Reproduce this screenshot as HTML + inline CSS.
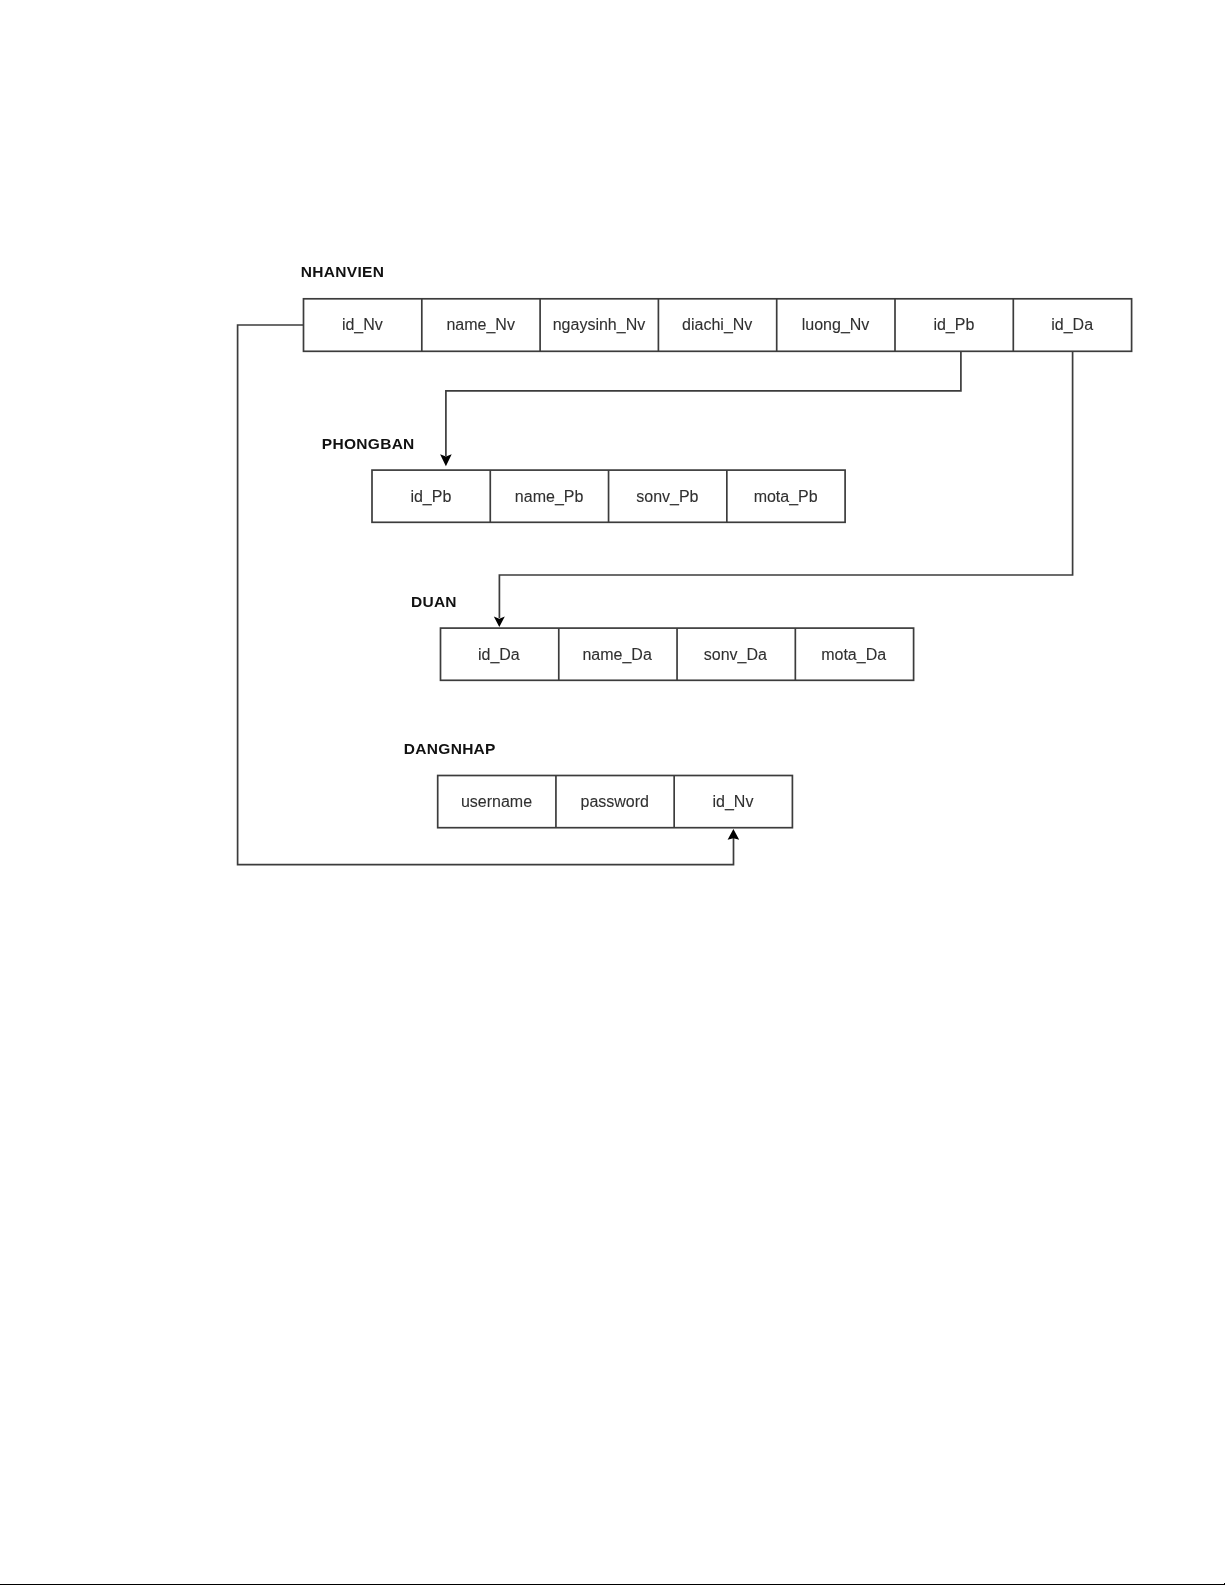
<!DOCTYPE html>
<html><head><meta charset="utf-8"><style>
html,body{margin:0;padding:0;background:#fff;width:1225px;height:1585px;overflow:hidden}
svg{position:absolute;left:0;top:0;will-change:transform}
.t{font-family:"Liberation Sans",sans-serif;font-size:16px;fill:#303030;stroke:#303030;stroke-width:0.1px}
.b{font-family:"Liberation Sans",sans-serif;font-size:15.5px;font-weight:bold;fill:#111;letter-spacing:0.3px}
</style></head><body>
<svg width="1225" height="1585" viewBox="0 0 1225 1585">
<rect x="303.5" y="298.8" width="828.10" height="52.50" fill="none" stroke="#3c3c3c" stroke-width="1.7"/>
<line x1="421.80" y1="298.8" x2="421.80" y2="351.3" stroke="#3c3c3c" stroke-width="1.7"/>
<line x1="540.10" y1="298.8" x2="540.10" y2="351.3" stroke="#3c3c3c" stroke-width="1.7"/>
<line x1="658.40" y1="298.8" x2="658.40" y2="351.3" stroke="#3c3c3c" stroke-width="1.7"/>
<line x1="776.70" y1="298.8" x2="776.70" y2="351.3" stroke="#3c3c3c" stroke-width="1.7"/>
<line x1="895.00" y1="298.8" x2="895.00" y2="351.3" stroke="#3c3c3c" stroke-width="1.7"/>
<line x1="1013.30" y1="298.8" x2="1013.30" y2="351.3" stroke="#3c3c3c" stroke-width="1.7"/>
<text x="362.35" y="330.45" text-anchor="middle" class="t">id_Nv</text>
<text x="480.65" y="330.45" text-anchor="middle" class="t">name_Nv</text>
<text x="598.95" y="330.45" text-anchor="middle" class="t">ngaysinh_Nv</text>
<text x="717.25" y="330.45" text-anchor="middle" class="t">diachi_Nv</text>
<text x="835.55" y="330.45" text-anchor="middle" class="t">luong_Nv</text>
<text x="953.85" y="330.45" text-anchor="middle" class="t">id_Pb</text>
<text x="1072.15" y="330.45" text-anchor="middle" class="t">id_Da</text>
<rect x="372.0" y="470.1" width="473.10" height="52.20" fill="none" stroke="#3c3c3c" stroke-width="1.7"/>
<line x1="490.27" y1="470.1" x2="490.27" y2="522.3" stroke="#3c3c3c" stroke-width="1.7"/>
<line x1="608.55" y1="470.1" x2="608.55" y2="522.3" stroke="#3c3c3c" stroke-width="1.7"/>
<line x1="726.83" y1="470.1" x2="726.83" y2="522.3" stroke="#3c3c3c" stroke-width="1.7"/>
<text x="430.84" y="501.60" text-anchor="middle" class="t">id_Pb</text>
<text x="549.11" y="501.60" text-anchor="middle" class="t">name_Pb</text>
<text x="667.39" y="501.60" text-anchor="middle" class="t">sonv_Pb</text>
<text x="785.66" y="501.60" text-anchor="middle" class="t">mota_Pb</text>
<rect x="440.5" y="628.1" width="473.10" height="52.20" fill="none" stroke="#3c3c3c" stroke-width="1.7"/>
<line x1="558.77" y1="628.1" x2="558.77" y2="680.3" stroke="#3c3c3c" stroke-width="1.7"/>
<line x1="677.05" y1="628.1" x2="677.05" y2="680.3" stroke="#3c3c3c" stroke-width="1.7"/>
<line x1="795.33" y1="628.1" x2="795.33" y2="680.3" stroke="#3c3c3c" stroke-width="1.7"/>
<text x="498.84" y="659.60" text-anchor="middle" class="t">id_Da</text>
<text x="617.11" y="659.60" text-anchor="middle" class="t">name_Da</text>
<text x="735.39" y="659.60" text-anchor="middle" class="t">sonv_Da</text>
<text x="853.66" y="659.60" text-anchor="middle" class="t">mota_Da</text>
<rect x="437.7" y="775.5" width="354.70" height="52.20" fill="none" stroke="#3c3c3c" stroke-width="1.7"/>
<line x1="555.93" y1="775.5" x2="555.93" y2="827.7" stroke="#3c3c3c" stroke-width="1.7"/>
<line x1="674.17" y1="775.5" x2="674.17" y2="827.7" stroke="#3c3c3c" stroke-width="1.7"/>
<text x="496.52" y="807.00" text-anchor="middle" class="t">username</text>
<text x="614.75" y="807.00" text-anchor="middle" class="t">password</text>
<text x="732.98" y="807.00" text-anchor="middle" class="t">id_Nv</text>
<text x="300.8" y="277" class="b">NHANVIEN</text>
<text x="321.8" y="449" class="b">PHONGBAN</text>
<text x="410.9" y="606.7" class="b">DUAN</text>
<text x="403.8" y="754.3" class="b">DANGNHAP</text>
<path d="M303.5 325 H237.6 V864.7 H733.5 V838" fill="none" stroke="#3c3c3c" stroke-width="1.7"/>
<path d="M960.9 351.1 V390.8 H445.9 V456" fill="none" stroke="#3c3c3c" stroke-width="1.7"/>
<path d="M1072.6 351.1 V575.0 H499.4 V618" fill="none" stroke="#3c3c3c" stroke-width="1.7"/>
<path d="M445.9 466.2 L440.09999999999997 454.2 L445.9 456.59999999999997 L451.7 454.2 Z" fill="#000"/>
<path d="M499.3 627.0 L493.8 616.5 L499.3 618.8 L504.8 616.5 Z" fill="#000"/>
<path d="M733.4 829.0 L727.6 839.8 L733.4 838.1999999999999 L739.1999999999999 839.8 Z" fill="#000"/>
<rect x="0" y="1584" width="1225" height="1" fill="#000"/>
<rect x="1224" y="1583" width="1" height="1" fill="#000"/>
</svg>
</body></html>
